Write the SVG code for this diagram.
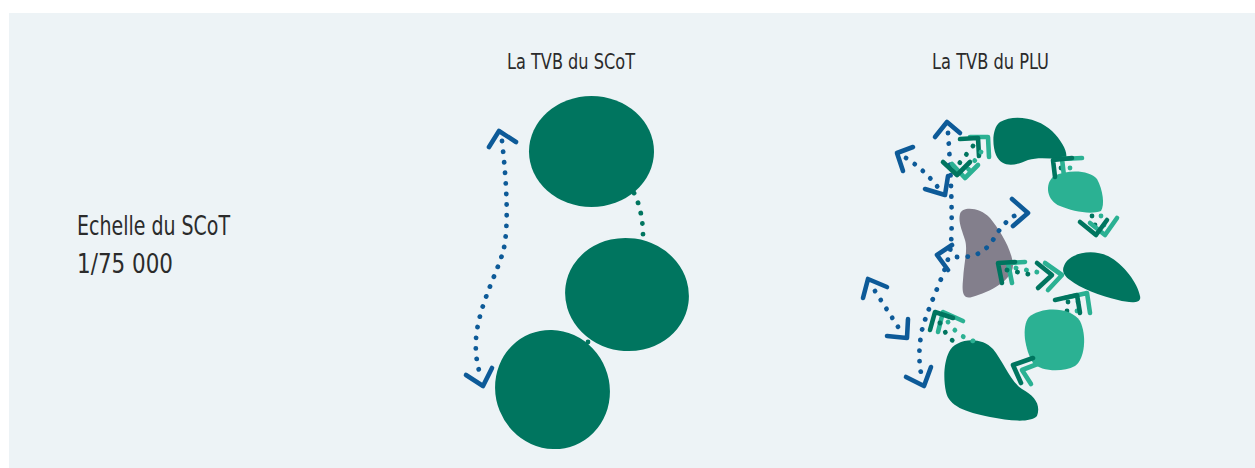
<svg xmlns="http://www.w3.org/2000/svg" width="1255" height="468" viewBox="0 0 1255 468">
<style>
.lbl{font-family:"Liberation Sans Narrow","DejaVu Sans Condensed","Liberation Sans",sans-serif;fill:#2b2b2b}
.dg{fill:#00755f}
.lg{fill:#2bb193}
.gr{fill:#837f8c}
.chB{fill:none;stroke:#0d5a98;stroke-width:4.6;stroke-linecap:round;stroke-linejoin:round}
.dotB{fill:none;stroke:#0d5a98;stroke-width:4.8;stroke-linecap:round;stroke-dasharray:0.1 10.5}
.chD{fill:none;stroke:#00755f;stroke-width:4.6;stroke-linecap:round;stroke-linejoin:round}
.chL{fill:none;stroke:#2bb193;stroke-width:4.6;stroke-linecap:round;stroke-linejoin:round}
.dotD{fill:none;stroke:#00755f;stroke-width:4.8;stroke-linecap:round;stroke-dasharray:0.1 10.5}
.dotL{fill:none;stroke:#2bb193;stroke-width:4.8;stroke-linecap:round;stroke-dasharray:0.1 10.5}
</style>
<rect x="9" y="13" width="1246" height="455" fill="#edf3f6"/>

<g id="labels">
<text class="lbl" x="77" y="235" font-size="27" textLength="153" lengthAdjust="spacingAndGlyphs">Echelle du SCoT</text>
<text class="lbl" x="77" y="273" font-size="27" textLength="96" lengthAdjust="spacingAndGlyphs">1/75 000</text>
<text class="lbl" x="507" y="69" font-size="21" textLength="128" lengthAdjust="spacingAndGlyphs">La TVB du SCoT</text>
<text class="lbl" x="932" y="69" font-size="21" textLength="117" lengthAdjust="spacingAndGlyphs">La TVB du PLU</text>
</g>

<!-- SCoT panel -->
<g id="scot-connectors">
<path class="dotB" d="M502,141 C507,185 509,230 503,252 C496,275 482,300 477,330 C474,350 477,365 481,377"/>
<polyline class="chB" points="489,147 499,131 516,142"/>
<polyline class="chB" points="466,375 483,386 492,368"/>
<path class="dotD" d="M634,193 C640,205 643,220 643,236"/>
<circle cx="588" cy="342" r="2.4" fill="#00755f"/>
</g>
<g id="scot-node-1"><ellipse class="dg" cx="591.5" cy="151.5" rx="62.5" ry="55.5"/></g>
<g id="scot-node-2"><ellipse class="dg" cx="627" cy="294.5" rx="62" ry="56.5" transform="rotate(8 627 294.5)"/></g>
<g id="scot-node-3"><ellipse class="dg" cx="552.5" cy="389.5" rx="57" ry="60" transform="rotate(-22 552.5 389.5)"/></g>

<!-- PLU panel -->
<g id="plu-connectors-back">
<circle cx="1061" cy="168" r="2.4" fill="#00755f"/>
<circle cx="1070" cy="168" r="2.4" fill="#2bb193"/>
<circle cx="1092" cy="216" r="2.4" fill="#00755f"/>
<circle cx="1101" cy="216" r="2.4" fill="#2bb193"/>
<circle cx="1095" cy="225" r="2.4" fill="#00755f"/>
<circle cx="1104" cy="225" r="2.4" fill="#2bb193"/>
<circle cx="1068" cy="302" r="2.4" fill="#00755f"/>
<circle cx="1078" cy="302" r="2.4" fill="#2bb193"/>
<circle cx="1067" cy="311" r="2.4" fill="#00755f"/>
<circle cx="1077" cy="311" r="2.4" fill="#2bb193"/>
</g>

<g id="plu-node-1"><path class="dg" d="M1000,122 C1015,113 1040,119 1052,131 C1062,141 1068,152 1066,158 C1055,160 1040,156 1028,160 C1015,166 1002,168 996,155 C992,145 992,128 1000,122 Z"/></g>
<g id="plu-node-2"><path class="lg" d="M1054,176 C1068,169 1090,170 1097,179 C1103,190 1105,205 1101,211 C1090,215 1072,211 1060,206 C1047,201 1044,184 1054,176 Z"/></g>
<g id="plu-node-3"><path class="gr" d="M960,214 C962,206 980,207 990,218 C1000,230 1012,250 1013,265 C1013,280 990,292 972,297 C962,300 962,290 963,280 C964,262 968,250 965,240 C962,230 958,222 960,214 Z"/></g>
<g id="plu-node-4"><path class="dg" d="M1064,266 C1068,254 1090,248 1108,256 C1124,264 1138,284 1140,296 C1142,304 1130,303 1118,300 C1100,296 1080,288 1070,280 C1063,275 1062,270 1064,266 Z"/></g>
<g id="plu-node-5"><path class="lg" d="M1029,317 C1042,306 1071,307 1080,321 C1087,335 1085,359 1075,366 C1062,373 1040,371 1033,363 C1025,350 1021,327 1029,317 Z"/></g>
<g id="plu-node-6"><path class="dg" d="M949,352 C955,339 980,335 993,349 C1003,361 1010,381 1022,389 C1035,396 1041,405 1037,416 C1030,423 1010,421 990,417 C965,412 949,406 946,392 C943,378 944,362 949,352 Z"/></g>

<g id="plu-connectors">
<path class="dotB" d="M948,133 C950,160 953,210 951,245 C948,270 930,300 922,330 C918,350 919,365 922,378"/>
<polyline class="chB" points="935,137 947,122 960,133"/>
<polyline class="chB" points="906,377 924,386 931,367"/>
<path class="dotB" d="M957,257 C975,258 985,252 993,240 C1000,228 1008,218 1020,213"/>
<polyline class="chB" points="952,245 937,255 948,270"/>
<polyline class="chB" points="1012,199 1028,213 1013,226"/>
<path class="dotB" d="M906,158 C920,167 930,177 940,190"/>
<polyline class="chB" points="913,147 897,153 903,171"/>
<polyline class="chB" points="925,189 945,195 948,176"/>
<path class="dotB" d="M875,291 L902,333"/>
<polyline class="chB" points="887,287 868,279 863,298"/>
<polyline class="chB" points="887,336 907,338 908,319"/>

<polyline class="chL" points="970,137 988,137 989,157"/>
<polyline class="chD" points="960,139 978,138 979,156"/>
<path class="dotL" d="M981,152 L968,170"/>
<path class="dotD" d="M973,146 L958,165"/>
<polyline class="chL" points="952,164 965,178 978,165"/>
<polyline class="chD" points="943,162 957,175 970,162"/>

<polyline class="chL" points="1082,158 1062,159 1064,176"/>
<polyline class="chD" points="1072,158 1053,160 1055,177"/>
<polyline class="chL" points="1090,223 1105,235 1117,218"/>
<polyline class="chD" points="1080,222 1096,235 1107,220"/>

<polyline class="chL" points="1025,262 1008,263 1012,283"/>
<polyline class="chD" points="1015,262 998,263 1002,283"/>
<path class="dotL" d="M1016,268 L1047,274"/>
<path class="dotD" d="M1007,270 L1038,276"/>
<polyline class="chL" points="1045,263 1062,275 1048,290"/>
<polyline class="chD" points="1037,263 1052,275 1038,288"/>

<polyline class="chL" points="1065,298 1087,293 1090,313"/>
<polyline class="chD" points="1055,300 1077,295 1080,313"/>

<polyline class="chL" points="1040,363 1022,370 1031,384"/>
<polyline class="chD" points="1033,358 1013,365 1021,383"/>

<polyline class="chL" points="938,332 943,312 963,321"/>
<polyline class="chD" points="930,330 935,312 953,318"/>
<path class="dotL" d="M948,322 C955,332 965,340 978,342"/>
<path class="dotD" d="M940,323 C945,333 950,340 960,346"/>
</g>
</svg>
